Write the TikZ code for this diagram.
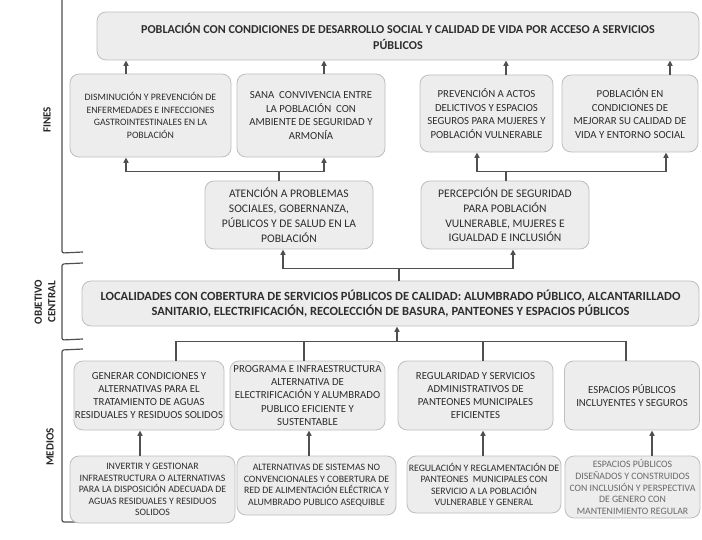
\documentclass[tikz,border=0pt]{standalone}
\usepackage{fontspec}
\setmainfont{Carlito}
\usetikzlibrary{positioning,arrows.meta,calc}
\definecolor{cajafondo}{RGB}{237,237,237}
\definecolor{cajaborde}{RGB}{190,190,190}
\definecolor{textogris}{RGB}{45,45,45}
\definecolor{textoclaro}{RGB}{105,105,105}
\definecolor{lineagris}{RGB}{80,80,80}
\tikzset{
  caja/.style={draw=cajaborde,fill=cajafondo,rounded corners=9pt,align=center,text=textogris,inner xsep=1pt,inner ysep=2pt,line width=0.8pt},
  titulobox/.style={caja,font=\bfseries\fontsize{12.1}{16}\selectfont,text=black!82},
  finbox/.style={caja,font=\fontsize{10.8}{13.4}\selectfont},
  finchica/.style={caja,font=\fontsize{9.8}{12.4}\selectfont},
  interbox/.style={caja,font=\fontsize{11.6}{14.8}\selectfont},
  mediobox/.style={caja,font=\fontsize{10.8}{13.2}\selectfont},
  causabox/.style={caja,font=\fontsize{9.8}{11.6}\selectfont},
  flecha/.style={-{Triangle[length=5.5pt,width=5pt]},line width=1.4pt,draw=lineagris},
  linea/.style={line width=1.4pt,draw=lineagris},
  llave/.style={line width=1.2pt,draw=lineagris,rounded corners=2pt},
  etiqueta/.style={font=\bfseries\fontsize{11}{13.5}\selectfont,rotate=90,align=center,text=black!85},
}
\begin{document}
\begin{tikzpicture}[x=1pt,y=-1pt]
  \useasboundingbox (0,0) rectangle (702,540);
  % brackets and side labels
  \draw[llave] (62,0) -- (62,253) -- (83,252);
  \draw[llave] (83,263) -- (62,264) -- (62,340) -- (83,339);
  \draw[llave] (83,349) -- (62,350) -- (62,522) -- (83,522);
  \node[etiqueta] (lfines) at (47,120) {FINES};
  \node[etiqueta] (lobjetivo) at (45,302) {OBJETIVO\\CENTRAL};
  \node[etiqueta] (lmedios) at (50,447) {MEDIOS};
  % fines
  \node[titulobox,minimum width=602pt,minimum height=48pt] (fin) at (398,36)
    {POBLACIÓN CON CONDICIONES DE DESARROLLO SOCIAL Y CALIDAD DE VIDA POR ACCESO A SERVICIOS\\PÚBLICOS};
  \node[finchica,minimum width=161pt,minimum height=83pt] (a) at (150.5,115.5)
    {DISMINUCIÓN Y PREVENCIÓN DE\\ENFERMEDADES E INFECCIONES\\GASTROINTESTINALES EN LA\\POBLACIÓN};
  \node[finbox,minimum width=148pt,minimum height=83pt] (b) at (311,115.5)
    {SANA\ \ CONVIVENCIA ENTRE\\LA POBLACIÓN\ \ CON\\AMBIENTE DE SEGURIDAD Y\\ARMONÍA};
  \node[finbox,minimum width=133pt,minimum height=77pt] (c) at (486.5,113.5)
    {PREVENCIÓN A ACTOS\\DELICTIVOS Y ESPACIOS\\SEGUROS PARA MUJERES Y\\POBLACIÓN VULNERABLE};
  \node[finbox,minimum width=136pt,minimum height=77pt] (d) at (630,113.5)
    {POBLACIÓN EN\\CONDICIONES DE\\MEJORAR SU CALIDAD DE\\VIDA Y ENTORNO SOCIAL};
  \node[interbox,minimum width=168pt,minimum height=68pt] (atencion) at (289,215)
    {ATENCIÓN A PROBLEMAS\\SOCIALES, GOBERNANZA,\\PÚBLICOS Y DE SALUD EN LA\\POBLACIÓN};
  \node[interbox,minimum width=168pt,minimum height=68pt] (percepcion) at (505,215)
    {PERCEPCIÓN DE SEGURIDAD\\PARA POBLACIÓN\\VULNERABLE, MUJERES E\\IGUALDAD E INCLUSIÓN};
  % objetivo central
  \node[titulobox,font=\bfseries\fontsize{12.5}{15}\selectfont,minimum width=617pt,minimum height=45pt] (central) at (390.5,303.5)
    {LOCALIDADES CON COBERTURA DE SERVICIOS PÚBLICOS DE CALIDAD: ALUMBRADO PÚBLICO, ALCANTARILLADO\\SANITARIO, ELECTRIFICACIÓN, RECOLECCIÓN DE BASURA, PANTEONES Y ESPACIOS PÚBLICOS};
  % medios
  \node[mediobox,minimum width=146pt,minimum height=69pt] (m1) at (149,395.5)
    {GENERAR CONDICIONES Y\\ALTERNATIVAS PARA EL\\TRATAMIENTO DE AGUAS\\RESIDUALES Y RESIDUOS SOLIDOS};
  \node[mediobox,minimum width=155pt,minimum height=69pt] (m2) at (307.5,395.5)
    {PROGRAMA E INFRAESTRUCTURA\\ALTERNATIVA DE\\ELECTRIFICACIÓN Y ALUMBRADO\\PUBLICO EFICIENTE Y\\SUSTENTABLE};
  \node[mediobox,minimum width=155pt,minimum height=69pt] (m3) at (475.5,395.5)
    {REGULARIDAD Y SERVICIOS\\ADMINISTRATIVOS DE\\PANTEONES MUNICIPALES\\EFICIENTES};
  \node[mediobox,minimum width=135pt,minimum height=69pt] (m4) at (632,395.5)
    {ESPACIOS PÚBLICOS\\INCLUYENTES Y SEGUROS};
  \node[causabox,minimum width=165pt,minimum height=67pt] (b1) at (152.5,489.5)
    {INVERTIR Y GESTIONAR\\INFRAESTRUCTURA O ALTERNATIVAS\\PARA LA DISPOSICIÓN ADECUADA DE\\AGUAS RESIDUALES Y RESIDUOS\\SOLIDOS};
  \node[causabox,minimum width=159pt,minimum height=59pt] (b2) at (316.5,485.5)
    {ALTERNATIVAS DE SISTEMAS NO\\CONVENCIONALES Y COBERTURA DE\\RED DE ALIMENTACIÓN ELÉCTRICA Y\\ALUMBRADO PUBLICO ASEQUIBLE};
  \node[causabox,minimum width=154pt,minimum height=57pt] (b3) at (484,484.5)
    {REGULACIÓN Y REGLAMENTACIÓN DE\\PANTEONES\ \ MUNICIPALES CON\\SERVICIO A LA POBLACIÓN\\VULNERABLE Y GENERAL};
  \node[causabox,text=textoclaro,minimum width=135pt,minimum height=62pt] (b4) at (632.5,487)
    {ESPACIOS PÚBLICOS\\DISEÑADOS Y CONSTRUIDOS\\CON INCLUSIÓN Y PERSPECTIVA\\DE GENERO CON\\MANTENIMIENTO REGULAR};
  % arrows to the top
  \draw[flecha] ([xshift=-24.5pt]a.north) -- ([xshift=-24.5pt]a.north |- fin.south);
  \draw[flecha] ([xshift=13pt]b.north) -- ([xshift=13pt]b.north |- fin.south);
  \draw[flecha] ([xshift=19.5pt]c.north) -- ([xshift=19.5pt]c.north |- fin.south);
  \draw[flecha] ([xshift=40pt]d.north) -- ([xshift=40pt]d.north |- fin.south);
  \draw[linea] ([xshift=-10pt]atencion.north) -- ++(0,-9) coordinate (ja);
  \draw[flecha] (ja) -| ([xshift=-24.5pt]a.south);
  \draw[flecha] (ja) -| ([xshift=13pt]b.south);
  \draw[linea] ([xshift=1pt]percepcion.north) -- ++(0,-9) coordinate (jp);
  \draw[flecha] (jp) -| ([xshift=-9.5pt]c.south);
  \draw[flecha] (jp) -| ([xshift=36pt]d.south);
  \draw[linea] ([xshift=8.5pt]central.north) -- ++(0,-12) coordinate (jc);
  \draw[flecha] (jc) -| ([xshift=-6pt]atencion.south);
  \draw[flecha] (jc) -| ([xshift=8pt]percepcion.south);
  % medios up to the objective
  \coordinate (jm) at ([xshift=6.5pt,yshift=-15pt]central.south);
  \draw[flecha] (jm) -- ([xshift=6.5pt]central.south);
  \draw[linea] ([xshift=27pt]m1.north) |- (jm);
  \draw[linea] ([xshift=-3.5pt]m2.north) |- (jm);
  \draw[linea] ([xshift=7.5pt]m3.north) |- (jm);
  \draw[linea] ([xshift=-6pt]m4.north) |- (jm);
  \draw[flecha] ([xshift=-12.5pt]b1.north) -- ([xshift=-12.5pt]b1.north |- m1.south);
  \draw[flecha] ([xshift=-7.5pt]b2.north) -- ([xshift=-7.5pt]b2.north |- m2.south);
  \draw[flecha] ([xshift=-1pt]b3.north) -- ([xshift=-1pt]b3.north |- m3.south);
  \draw[flecha] ([xshift=19.5pt]b4.north) -- ([xshift=19.5pt]b4.north |- m4.south);
\end{tikzpicture}
\end{document}
